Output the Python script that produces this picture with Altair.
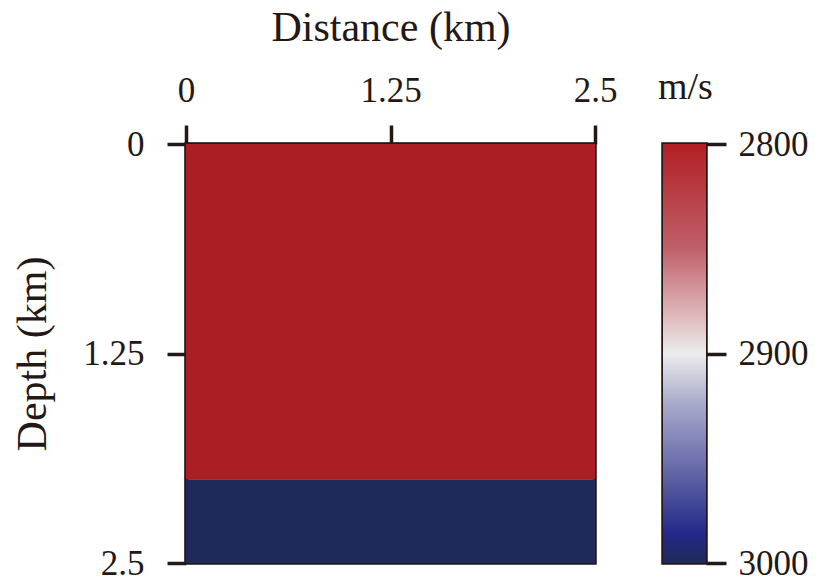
import altair as alt
import pandas as pd

# ---- data ----
dist_ticks = [0, 1.25, 2.5]
depth_ticks = [0, 1.25, 2.5]
layer_x_start = [0.0, 0.0]
layer_x_end = [2.5, 2.5]
layer_top = [0.0, 2.0]
layer_bottom = [2.0, 2.5]
layer_velocity = [2800, 3000]
vel_ticks = [2800, 2900, 3000]
vel_domain = [2800, 2900, 3000]
vel_range = ["#AA1E24", "#ECECEC", "#1F2A5A"]
cbar_stop_colors = ["#B21F24", "#C0606A", "#DDB4B6", "#ECECEC", "#A8AACB", "#5B5FA3", "#23288A", "#1F2A5A"]
cbar_stop_offsets = [0.0, 0.25, 0.4, 0.5, 0.62, 0.8, 0.93, 1.0]

INK = "#231815"
FONT = "Liberation Serif"
LABEL_EXPR = "'' + datum.value"

df = pd.DataFrame({
    "x0": layer_x_start, "x1": layer_x_end,
    "z0": layer_top, "z1": layer_bottom, "v": layer_velocity,
})

main = alt.Chart(df).mark_rect().encode(
    x=alt.X("x0:Q",
            scale=alt.Scale(domain=[0, 2.5], nice=False, zero=False),
            axis=alt.Axis(orient="top", values=dist_ticks, labelExpr=LABEL_EXPR,
                          title="Distance (km)", labelFlush=False,
                          labelPadding=17, titlePadding=24)),
    x2="x1:Q",
    y=alt.Y("z0:Q",
            scale=alt.Scale(domain=[0, 2.5], reverse=True, nice=False, zero=False),
            axis=alt.Axis(orient="left", values=depth_ticks, labelExpr=LABEL_EXPR,
                          title="Depth (km)", labelFlush=False,
                          labelPadding=23, titlePadding=28)),
    y2="z1:Q",
    color=alt.Color("v:Q",
                    scale=alt.Scale(domain=vel_domain, range=vel_range),
                    legend=None),
).properties(width=409, height=419)

cb_df = pd.DataFrame({"lo": [vel_ticks[0]], "hi": [vel_ticks[-1]]})

cbar = alt.Chart(cb_df).mark_rect(
    fill=alt.Gradient(
        gradient="linear",
        stops=[alt.GradientStop(color=c, offset=o)
               for c, o in zip(cbar_stop_colors, cbar_stop_offsets)],
        x1=0, x2=0, y1=0, y2=1,
    )
).encode(
    x=alt.value(0), x2=alt.value(43),
    y=alt.Y("lo:Q",
            scale=alt.Scale(domain=[2800, 3000], reverse=True, nice=False, zero=False),
            axis=alt.Axis(orient="right", values=vel_ticks, format="d",
                          title=None, labelFlush=False, domain=False,
                          tickSize=20, labelPadding=12)),
    y2="hi:Q",
).properties(
    width=43, height=419,
    title=alt.TitleParams("m/s", anchor="start", fontSize=38, font=FONT,
                          color=INK, fontWeight="normal", offset=20, dx=-5),
)

chart = alt.hconcat(main, cbar, spacing=68, bounds="flush").configure_view(
    stroke=INK, strokeWidth=3.5,
).configure_axis(
    domainColor=INK, domainWidth=3.5, tickColor=INK, tickWidth=3.5, tickSize=19,
    labelFont=FONT, labelFontSize=35, labelColor=INK,
    titleFont=FONT, titleFontSize=42, titleColor=INK, titleFontWeight="normal",
    grid=False, labelOverlap=False,
).properties(
    padding={"left": 10, "top": 4, "right": 5, "bottom": 5},
    background="white",
)

chart.save("out.html", embed_options={"renderer": "svg", "actions": False})
